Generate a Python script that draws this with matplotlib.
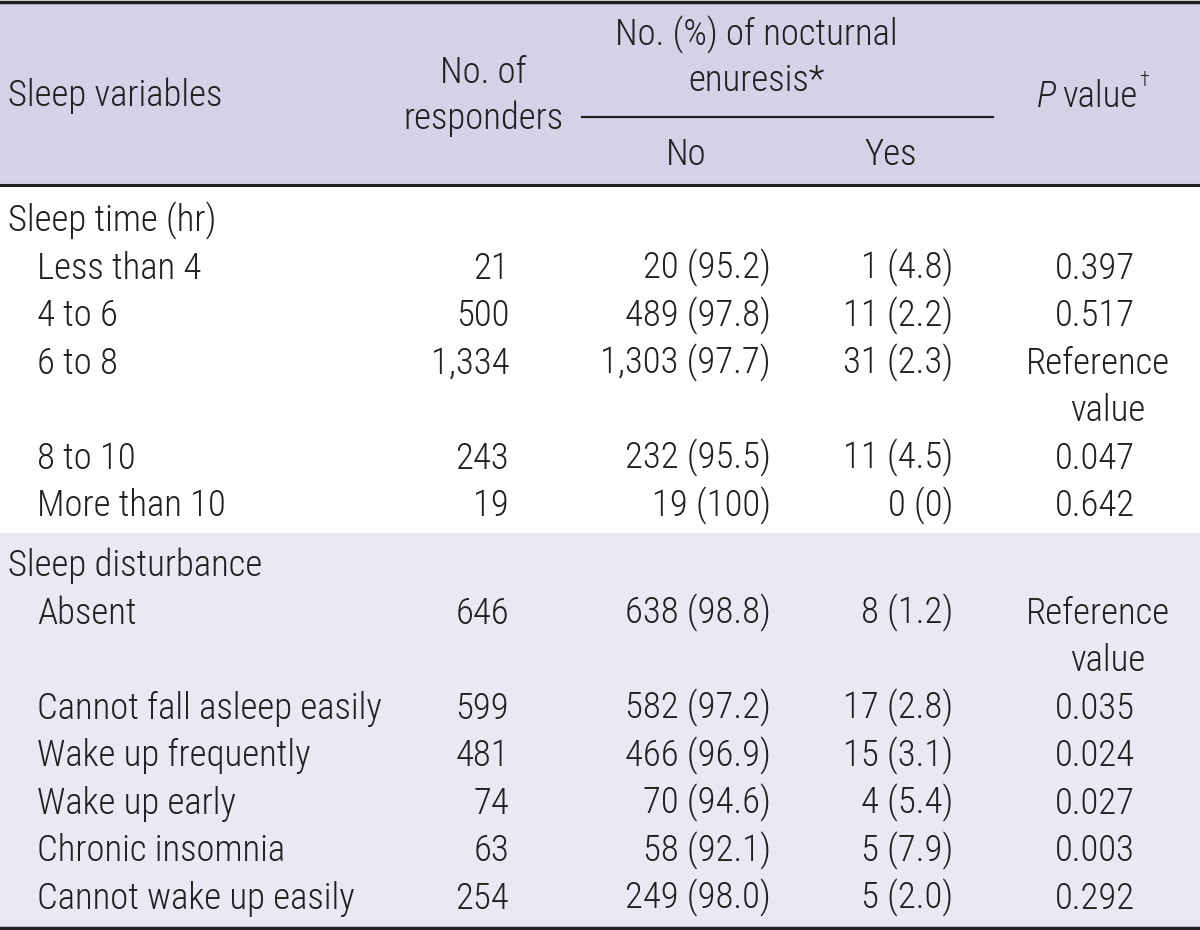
import matplotlib
matplotlib.use("Agg")
import matplotlib.pyplot as plt
from matplotlib.patches import Rectangle

plt.rcParams['font.family'] = ['Roboto Condensed', 'DejaVu Sans']

# ---- data ----
section1_title = "Sleep time (hr)"
section1_labels = ["Less than 4", "4 to 6", "6 to 8", "8 to 10", "More than 10"]
section1_n = ["21", "500", "1,334", "243", "19"]
section1_no = ["20 (95.2)", "489 (97.8)", "1,303 (97.7)", "232 (95.5)", "19 (100)"]
section1_yes = ["1 (4.8)", "11 (2.2)", "31 (2.3)", "11 (4.5)", "0 (0)"]
section1_p = ["0.397", "0.517", "Reference\nvalue", "0.047", "0.642"]

section2_title = "Sleep disturbance"
section2_labels = ["Absent", "Cannot fall asleep easily", "Wake up frequently",
                   "Wake up early", "Chronic insomnia", "Cannot wake up easily"]
section2_n = ["646", "599", "481", "74", "63", "254"]
section2_no = ["638 (98.8)", "582 (97.2)", "466 (96.9)", "70 (94.6)", "58 (92.1)", "249 (98.0)"]
section2_yes = ["8 (1.2)", "17 (2.8)", "15 (3.1)", "4 (5.4)", "5 (7.9)", "5 (2.0)"]
section2_p = ["Reference\nvalue", "0.035", "0.024", "0.027", "0.003", "0.292"]

# ---- layout ----
W, H = 1200, 930
fig = plt.figure(figsize=(12, 9.3), dpi=100)
ax = fig.add_axes([0, 0, 1, 1])
ax.set_xlim(0, W)
ax.set_ylim(H, 0)
ax.axis('off')

TXT = '#231f20'
FS = 26.5
WT = 300
HEAD_BG = '#d3d2e6'
LOW_BG = '#e9e8f3'

HEAD_TOP, HEAD_BOT, SEP, BOT = 2, 185, 533, 928
ax.add_patch(Rectangle((0, HEAD_TOP), W, HEAD_BOT - HEAD_TOP, facecolor=HEAD_BG, edgecolor='none'))
ax.add_patch(Rectangle((0, SEP), W, BOT - SEP, facecolor=LOW_BG, edgecolor='none'))

ax.plot([0, W], [HEAD_TOP, HEAD_TOP], color=TXT, lw=2.5)
ax.plot([0, W], [HEAD_BOT, HEAD_BOT], color=TXT, lw=2.2)
ax.plot([582, 993], [117, 117], color=TXT, lw=1.6)
ax.plot([0, W], [BOT, BOT], color=TXT, lw=2.5)

def t(x, y, s, ha='left', **kw):
    return ax.text(x, y, s, ha=ha, va='baseline', fontsize=FS, color=TXT, fontweight=WT, **kw)

# header
t(8, 106, "Sleep variables")
t(483, 83, "No. of", ha='center')
t(483, 129, "responders", ha='center')
t(756, 45, "No. (%) of nocturnal", ha='center')
t(756, 91, "enuresis*", ha='center')
t(686, 165, "No", ha='center')
t(891, 165, "Yes", ha='center')

renderer = fig.canvas.get_renderer()
ptxt = t(1037, 107, "P", style='italic')
bb = ptxt.get_window_extent(renderer)
vtxt = t(bb.x1 + 6, 107, "value")
bb2 = vtxt.get_window_extent(renderer)
ax.text(bb2.x1 + 2, 81, "\u2020", ha='left', va='center', fontsize=FS * 0.55, color=TXT, fontweight=WT)

X_LAB, X_IND, X_N, X_NO, X_YES, X_P = 8, 37, 509, 771, 953, 1095
STEP = 47.5

def draw_rows(y0, labels, n, no, yes, p):
    y = y0
    for a, b, c, d, e in zip(labels, n, no, yes, p):
        t(X_IND, y, a)
        t(X_N, y, b, ha='right')
        t(X_NO, y, c, ha='right')
        t(X_YES, y, d, ha='right')
        if "\n" in e:
            l1, l2 = e.split("\n")
            t(1098, y, l1, ha='center')
            t(1108, y + STEP, l2, ha='center')
            y += STEP
        else:
            t(X_P, y, e, ha='center')
        y += STEP

base1 = 231
t(X_LAB, base1, section1_title)
draw_rows(base1 + STEP, section1_labels, section1_n, section1_no, section1_yes, section1_p)

base2 = 576
t(X_LAB, base2, section2_title)
draw_rows(base2 + STEP, section2_labels, section2_n, section2_no, section2_yes, section2_p)

fig.savefig("out.png", dpi=100)
